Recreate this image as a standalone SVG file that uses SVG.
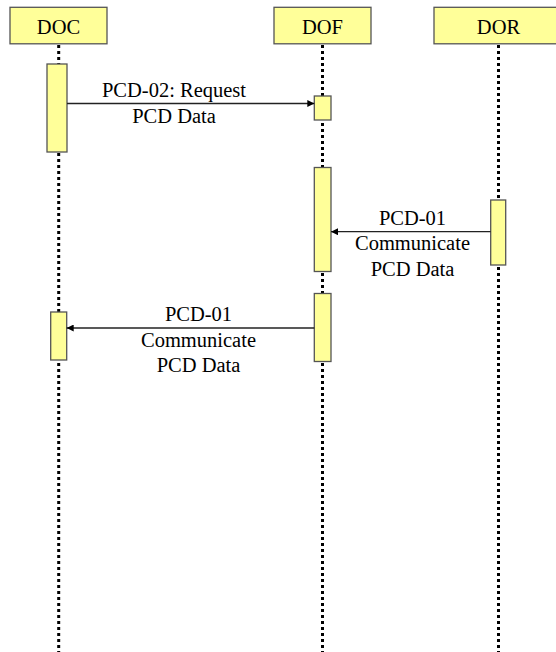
<svg xmlns="http://www.w3.org/2000/svg" width="556" height="652" viewBox="0 0 556 652">
<defs>
<style>
.hdr{fill:#FFFF99;stroke:#555;stroke-width:1.3}
.act{fill:#FFFF99;stroke:#555;stroke-width:1.3}
.life{stroke:#000;stroke-width:3;stroke-dasharray:3 3;fill:none}
.msg{stroke:#222;stroke-width:1.3;fill:none}
</style>
<marker id="ah" viewBox="0 0 10 10" refX="10" refY="5" markerWidth="8" markerHeight="7" markerUnits="userSpaceOnUse" orient="auto">
<path d="M0,0 L10,5 L0,10 z" fill="#000"/>
</marker>
</defs>
<rect width="556" height="652" fill="#fff"/>
<g id="lifelines">
<line class="life" x1="58.7" y1="45" x2="58.7" y2="652"/>
<line class="life" x1="322.5" y1="45" x2="322.5" y2="652"/>
<line class="life" x1="498.5" y1="45" x2="498.5" y2="652"/>
</g>
<g id="DOC">
<rect class="hdr" x="10" y="7.3" width="97" height="36.5"/>
<text x="58.5" y="34" font-family="Liberation Serif" font-size="20.5" text-anchor="middle">DOC</text>
<rect class="act" x="47" y="64" width="20" height="88"/>
<rect class="act" x="50.7" y="312" width="16" height="48"/>
</g>
<g id="DOF">
<rect class="hdr" x="274" y="7.3" width="97" height="36.5"/>
<text x="322.5" y="34" font-family="Liberation Serif" font-size="20.5" text-anchor="middle">DOF</text>
<rect class="act" x="314.3" y="96" width="16.7" height="24"/>
<rect class="act" x="314.3" y="167.5" width="16.7" height="104"/>
<rect class="act" x="314.3" y="293.5" width="16.7" height="68"/>
</g>
<g id="DOR">
<rect class="hdr" x="434" y="7.3" width="130" height="36.5"/>
<text x="498.5" y="34" font-family="Liberation Serif" font-size="20.5" text-anchor="middle">DOR</text>
<rect class="act" x="490.7" y="200" width="15" height="65"/>
</g>
<g id="connectors">
<line class="msg" x1="67" y1="103.5" x2="314.3" y2="103.5" marker-end="url(#ah)"/>
<line class="msg" x1="490.7" y1="231.7" x2="331" y2="231.7" marker-end="url(#ah)"/>
<line class="msg" x1="314.3" y1="328" x2="66.7" y2="328" marker-end="url(#ah)"/>
</g>
<g id="labels">
<text x="174" y="97.3" font-family="Liberation Serif" font-size="20.5" text-anchor="middle">PCD-02: Request</text>
<text x="174" y="123.3" font-family="Liberation Serif" font-size="20.5" text-anchor="middle">PCD Data</text>
<text x="412.5" y="224.5" font-family="Liberation Serif" font-size="20.5" text-anchor="middle">PCD-01</text>
<text x="412.5" y="250" font-family="Liberation Serif" font-size="20.5" text-anchor="middle">Communicate</text>
<text x="412.5" y="275.5" font-family="Liberation Serif" font-size="20.5" text-anchor="middle">PCD Data</text>
<text x="198.5" y="320.5" font-family="Liberation Serif" font-size="20.5" text-anchor="middle">PCD-01</text>
<text x="198.5" y="346.5" font-family="Liberation Serif" font-size="20.5" text-anchor="middle">Communicate</text>
<text x="198.5" y="372.3" font-family="Liberation Serif" font-size="20.5" text-anchor="middle">PCD Data</text>
</g>
</svg>
